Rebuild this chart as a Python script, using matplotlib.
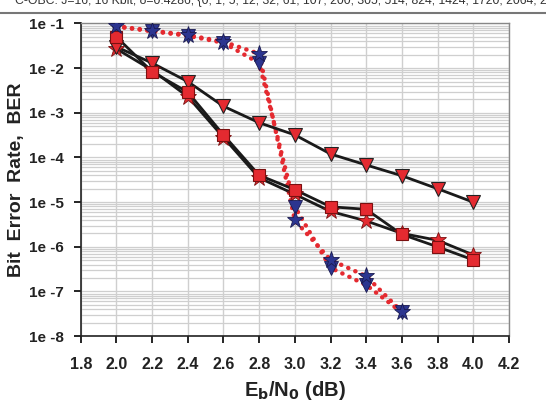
import numpy as np
import matplotlib.pyplot as plt
from matplotlib.ticker import FixedLocator, NullFormatter
from matplotlib.lines import Line2D

plt.rcParams['font.family'] = ['Liberation Sans', 'DejaVu Sans']

# dotted curves (blue markers)
x_star_dot = [2.0, 2.2, 2.4, 2.6, 2.8, 3.0, 3.2, 3.4, 3.6]
ber_star_dot = [8.7e-2, 6.9e-2, 5.5e-2, 3.9e-2, 2.1e-2, 3.9e-6, 5.1e-7, 2.2e-7, 3.5e-8]
x_tri_dot = [2.0, 2.2, 2.4, 2.6, 2.8, 3.0, 3.2, 3.4, 3.6]
ber_tri_dot = [8.5e-2, 6.7e-2, 5.3e-2, 3.7e-2, 1.3e-2, 7.9e-6, 3.4e-7, 1.4e-7, 3.4e-8]

# solid curves (red markers)
x_tri = [2.0, 2.2, 2.4, 2.6, 2.8, 3.0, 3.2, 3.4, 3.6, 3.8, 4.0]
ber_tri = [3.0e-2, 1.3e-2, 5.0e-3, 1.4e-3, 6.0e-4, 3.2e-4, 1.2e-4, 6.8e-5, 3.9e-5, 2.0e-5, 1.0e-5]
x_sq = [2.0, 2.2, 2.4, 2.6, 2.8, 3.0, 3.2, 3.4, 3.6, 3.8, 4.0]
ber_sq = [5.0e-2, 8.3e-3, 2.9e-3, 3.2e-4, 4.0e-5, 1.9e-5, 7.9e-6, 6.9e-6, 1.9e-6, 1.0e-6, 5.1e-7]
x_st = [2.0, 2.2, 2.4, 2.6, 2.8, 3.0, 3.2, 3.4, 3.6, 3.8, 4.0]
ber_st = [2.7e-2, 9.0e-3, 2.3e-3, 2.8e-4, 3.5e-5, 1.5e-5, 6.2e-6, 3.8e-6, 2.0e-6, 1.4e-6, 6.6e-7]

xticks = [1.8, 2.0, 2.2, 2.4, 2.6, 2.8, 3.0, 3.2, 3.4, 3.6, 3.8, 4.0, 4.2]
yexp = [-1, -2, -3, -4, -5, -6, -7, -8]

RED = '#e42a30'
NAVY = '#2c3590'

fig = plt.figure(figsize=(5.46, 4.05), dpi=100)
ax = fig.add_axes([0.148, 0.170, 0.784, 0.772])

dot = dict(color=RED, lw=3.2, linestyle=(0, (0.05, 1.7)), dash_capstyle='round', zorder=3)
ax.plot(x_star_dot, ber_star_dot, **dot)
ax.plot(x_tri_dot, ber_tri_dot, **dot)

solid = dict(color='#1a1a1a', lw=2.0, zorder=4)
ax.plot(x_tri, ber_tri, **solid)
ax.plot(x_sq, ber_sq, **solid)
ax.plot(x_st, ber_st, **solid)

ax.plot(x_st, ber_st, ls='none', marker='*', ms=12, mfc=RED, mec='#7a1010', mew=0.6, zorder=5)
ax.plot(x_tri, ber_tri, ls='none', marker='v', ms=9.5, mfc=RED, mec='#222222', mew=0.8, zorder=5)
ax.plot(x_sq, ber_sq, ls='none', marker='s', ms=9, mfc=RED, mec='#7a1010', mew=0.8, zorder=6)
ax.plot(x_tri_dot, ber_tri_dot, ls='none', marker='v', ms=9.5, mfc=NAVY, mec='#1a1a50', mew=0.6, zorder=5)
ax.plot(x_star_dot, ber_star_dot, ls='none', marker='*', ms=12.5, mfc=NAVY, mec='#1a1a50', mew=0.6, zorder=6)

ax.set_yscale('log')
ax.set_xlim(1.8, 4.2)
ax.set_ylim(1e-8, 1e-1)

ax.set_xticks(xticks)
ax.set_xticklabels(['%.1f' % v for v in xticks])
ax.set_yticks([10.0 ** e for e in yexp])
ax.set_yticklabels(['1e %d' % e for e in yexp])
minors = [m * 10.0 ** e for e in range(-8, -1) for m in range(2, 10)]
ax.yaxis.set_minor_locator(FixedLocator(minors))
ax.yaxis.set_minor_formatter(NullFormatter())

ax.grid(True, which='major', axis='x', color='#cfcfcf', lw=1.0)
ax.grid(True, which='both', axis='y', color='#cfcfcf', lw=0.9)
ax.set_axisbelow(True)

ax.tick_params(axis='both', which='major', direction='out', length=5, width=1.2, pad=7)
ax.tick_params(axis='y', which='major', labelsize=11)
ax.tick_params(axis='x', which='major', labelsize=11.5, pad=10)
ax.tick_params(axis='y', which='minor', length=0)
for lab in ax.get_xticklabels() + ax.get_yticklabels():
    lab.set_fontweight('bold')
    lab.set_color('#222222')

for s in ['left', 'bottom']:
    ax.spines[s].set_color('#222222')
    ax.spines[s].set_linewidth(1.2)
for s in ['top', 'right']:
    ax.spines[s].set_color('#888888')
    ax.spines[s].set_linewidth(1.0)

ax.set_xlabel(r'E$_\mathbf{b}$/N$_\mathbf{0}$ (dB)', fontsize=14.5, fontweight='bold', labelpad=5,
              color='#222222')
ax.set_ylabel('Bit  Error  Rate,  BER', fontsize=14, fontweight='bold', color='#222222')
ax.yaxis.set_label_coords(-0.13, 0.5)

fig.text(0.028, 0.990, 'C-OBC: J=16, 16 Kbit, \u03b4=0.4286, {0, 1, 5, 12, 32, 61, 107, 200, 305, 514, 824, 1424, 1720, 2064, 2',
         fontsize=8.8, color='#333333', va='baseline', ha='left')
fig.add_artist(Line2D([0, 1], [0.968, 0.968], transform=fig.transFigure, color='#777777', lw=1.5))

fig.savefig('out.png', dpi=100)
